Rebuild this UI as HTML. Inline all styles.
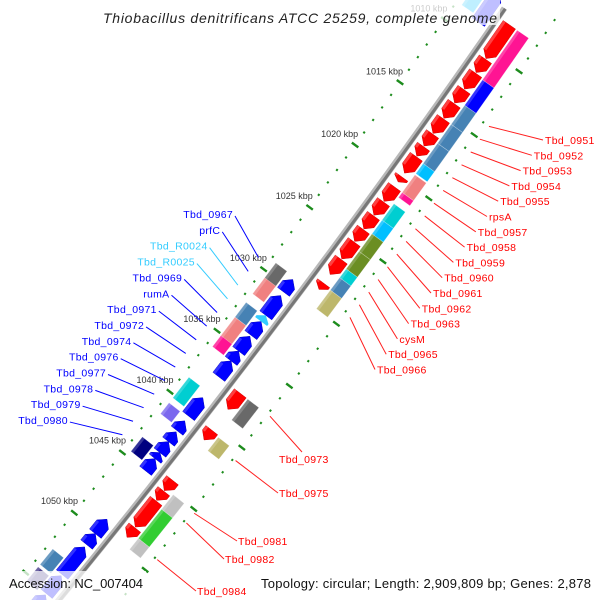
<!DOCTYPE html>
<html><head><meta charset="utf-8"><style>
html,body{margin:0;padding:0;background:#fff;overflow:hidden;width:600px;height:600px;}
svg{display:block;overflow:hidden;font-family:"Liberation Sans",sans-serif;}
</style></head><body>
<svg id="map" width="600" height="600" viewBox="0 0 600 600" xmlns="http://www.w3.org/2000/svg">
<defs><clipPath id="frame"><rect x="0" y="0" width="600" height="600"/></clipPath></defs>
<rect x="0" y="0" width="600" height="600" fill="#fff"/>
<g clip-path="url(#frame)">
<g id="ticks"></g>
<g id="feat"></g>
<g id="labs"></g>
</g>
<rect x="100" y="0" width="400" height="25" fill="#fff" fill-opacity="0.75"/>
<text x="300" y="23" text-anchor="middle" font-size="14" font-style="italic" fill="#222" textLength="394">Thiobacillus denitrificans ATCC 25259, complete genome</text>
<rect x="0" y="571" width="146" height="29" fill="#fff" fill-opacity="0.75"/>
<text x="9" y="588" font-size="13" fill="#111" textLength="134">Accession: NC_007404</text>
<text x="261" y="588" font-size="13" fill="#111" textLength="330">Topology: circular; Length: 2,909,809 bp; Genes: 2,878</text>
</svg>
<script>
// ---- data ----
const fwdGenes = [[1007.9,1010.55],[1010.6,1011.65],[1011.7,1012.95],[1013.0,1014.05],[1014.1,1015.25],[1015.3,1016.45],[1016.5,1017.45],[1017.5,1018.25],[1018.3,1019.6],[1019.9,1020.3],[1020.7,1021.85],[1021.9,1022.95],[1023.0,1024.05],[1024.1,1025.05],[1025.1,1026.45],[1026.5,1027.7],[1028.4,1028.9],[1037.3,1038.6],[1040.3,1041.1],[1044.4,1045.25],[1045.3,1046.05],[1046.1,1048.25],[1048.3,1049.1]];
const fwdCogStart = [1007.9,1011.8,1013.8,1015.3,1016.8,1018.4,1019.3,1020.7,1021.6,1022.9,1024.0,1025.4,1026.8,1027.5,1028.5,1037.3,1040.4,1045.1,1046.3,1048.7];
const fwdCogEnd   = [1011.8,1013.8,1015.3,1016.8,1018.4,1019.2,1020.7,1021.1,1022.9,1024.0,1025.4,1026.8,1027.5,1028.5,1030.0,1039.0,1041.5,1046.3,1048.7,1049.6];
const fwdCogClass = ['pink','blue','steel','steel','steel','sky','salmon','pink','cyan','sky','olive','olive','cyan','steel','khaki','gray','khaki','silver','green','silver'];
const revGenes = [[1006.6,1008.9],[1029.4,1030.4],[1030.7,1032.3],[1032.8,1033.9],[1034.0,1035.2],[1035.2,1036.0],[1036.0,1037.3],[1039.0,1040.5],[1040.9,1041.7],[1041.8,1042.6],[1042.6,1043.5],[1043.5,1044.0],[1044.0,1045.0],[1049.0,1050.2],[1050.2,1051.1],[1051.3,1053.6],[1053.7,1055.2],[1055.3,1056.6]];
const revRna = [[1032.3,1032.8]];
const revCogStart = [1007.0,1029.2,1030.4,1032.4,1033.6,1035.1,1038.5,1040.6,1043.4,1052.7,1054.2];
const revCogEnd   = [1008.6,1030.5,1031.7,1033.6,1035.2,1036.0,1040.2,1041.5,1044.6,1054.0,1055.4];
const revCogClass = ['sky','gray','salmon','steel','salmon','pink','cyan','slate','navy','steel','dslate'];
const rightLabels = ['Tbd_0951','Tbd_0952','Tbd_0953','Tbd_0954','Tbd_0955','rpsA','Tbd_0957','Tbd_0958','Tbd_0959','Tbd_0960','Tbd_0961','Tbd_0962','Tbd_0963','cysM','Tbd_0965','Tbd_0966'];
const leftLabels = ['Tbd_0967','prfC','Tbd_R0024','Tbd_R0025','Tbd_0969','rumA','Tbd_0971','Tbd_0972','Tbd_0974','Tbd_0976','Tbd_0977','Tbd_0978','Tbd_0979','Tbd_0980'];
const leftLabelRna = [false,false,true,true,false,false,false,false,false,false,false,false,false,false];
const lowerLabels = ['Tbd_0973','Tbd_0975','Tbd_0981','Tbd_0982','Tbd_0984'];
const lowerLabelKbp = [1037.3,1040.9,1045.2,1046.0,1049.0];
const tickStart = 1006, tickEnd = 1056;

// ---- geometry ----
const COG = {pink:'#ff1493',blue:'#0000ff',steel:'#4682b4',sky:'#00bfff',salmon:'#f08080',cyan:'#00ced1',olive:'#6b8e23',khaki:'#bdb76b',gray:'#696969',silver:'#c0c0c0',green:'#32cd32',slate:'#7b68ee',navy:'#000080',dslate:'#483d8b'};
const Cx=-6902, Cy=-5105, R=9000, PX=15.5, phi0=Math.atan2(5400,7200);
function P(k,t){const a=phi0+(k-1030)*PX/R;const r=R+t;return [Cx+r*Math.cos(a),Cy+r*Math.sin(a)];}
const NS='http://www.w3.org/2000/svg';
function mk(parent,tag,attrs,name){const el=document.createElementNS(NS,tag);for(const a in attrs)el.setAttribute(a,attrs[a]);


parent.appendChild(el);return el;}
function pts(arr){return arr.map(p=>p[0].toFixed(2)+','+p[1].toFixed(2)).join(' ');}
const gT=document.getElementById('ticks'),gF=document.getElementById('feat'),gL=document.getElementById('labs');

// backbone
let d='';for(let k=1007.2;k<=1056.2;k+=0.5){const p=P(k,0);d+=(d?'L':'M')+p[0].toFixed(2)+','+p[1].toFixed(2);}
mk(gF,'path',{d:d,fill:'none',stroke:'#b8b8b8','stroke-width':6},'backbone-edge');
d='';for(let k=1007.2;k<=1056.2;k+=0.5){const p=P(k,1);d+=(d?'L':'M')+p[0].toFixed(2)+','+p[1].toFixed(2);}
mk(gF,'path',{d:d,fill:'none',stroke:'#777','stroke-width':3},'backbone');

// ticks
const rings=[-43,48];
for(let k=tickStart;k<=tickEnd;k++){
  const major=(k%5===0);
  for(const t of rings){
    const len=major?4:1;const a=P(k,t-len),b=P(k,t+len);
    if(Math.min(a[0],b[0])<0||Math.max(a[1],b[1])>600||Math.min(a[1],b[1])<0||Math.max(a[0],b[0])>600)continue;
    mk(gT,'line',{x1:a[0],y1:a[1],x2:b[0],y2:b[1],stroke:'#1d8c1d','stroke-width':major?2.4:2.2},major?'major-tick':'minor-tick');
  }
  if(major){const p=P(k,-62);
    if(p[0]>25&&p[1]<560){
    const tx=mk(gT,'text',{x:p[0],y:p[1]+3,'text-anchor':'middle','font-size':9,fill:'#333'},'tick-label-'+k);tx.textContent=k+' kbp';}}
}

function arrow(k1,k2,tIn,tOut,dir){const h=Math.min(0.45,(k2-k1)*0.7),m=(tIn+tOut)/2;
  return dir>0?[P(k1,tIn),P(k2-h,tIn),P(k2,m),P(k2-h,tOut),P(k1,tOut)]:[P(k2,tIn),P(k1+h,tIn),P(k1,m),P(k1+h,tOut),P(k2,tOut)];}
function box(k1,k2,tIn,tOut){return [P(k1,tIn),P(k2,tIn),P(k2,tOut),P(k1,tOut)];}
function shade(k1,k2,tEdge,w){return box(k1,k2,tEdge,tEdge+w);}

fwdGenes.forEach((g,i)=>{mk(gF,'polygon',{points:pts(arrow(g[0],g[1],6,21,1)),fill:'#ff0000',stroke:'#d00000','stroke-width':0.5},'forward-gene');
  mk(gF,'polygon',{points:pts(shade(g[0],g[1]-Math.min(0.45,(g[1]-g[0])*0.7),6,3)),fill:'#fff','fill-opacity':0.25},'forward-gene-shade');});
fwdCogStart.forEach((s,i)=>{mk(gF,'polygon',{points:pts(box(s,fwdCogEnd[i],23,37)),fill:COG[fwdCogClass[i]],stroke:'rgba(255,255,255,0.35)','stroke-width':0.6},'forward-cog-'+fwdCogClass[i]);
  mk(gF,'polygon',{points:pts(shade(s,fwdCogEnd[i],23,3)),fill:'#fff','fill-opacity':0.2},'forward-cog-shade');});
revGenes.forEach(g=>{mk(gF,'polygon',{points:pts(arrow(g[0],g[1],-6,-21,-1)),fill:'#0000ff',stroke:'#0000c0','stroke-width':0.5},'reverse-gene');
  mk(gF,'polygon',{points:pts(shade(g[0]+Math.min(0.45,(g[1]-g[0])*0.7),g[1],-21,3)),fill:'#fff','fill-opacity':0.2},'reverse-gene-shade');});
revRna.forEach(g=>{mk(gF,'polygon',{points:pts(arrow(g[0],g[1],-6,-21,-1)),fill:'#33ccff'},'reverse-rna');});
revCogStart.forEach((s,i)=>{mk(gF,'polygon',{points:pts(box(s,revCogEnd[i],-23,-37)),fill:COG[revCogClass[i]],stroke:'rgba(255,255,255,0.35)','stroke-width':0.6},'reverse-cog-'+revCogClass[i]);
  mk(gF,'polygon',{points:pts(shade(s,revCogEnd[i],-37,3)),fill:'#fff','fill-opacity':0.2},'reverse-cog-shade');});

// labels
rightLabels.forEach((n,i)=>{const lx=545-11.2*i,ly=140+15.3*i,a=P(1014+1.01*i,55);
  mk(gL,'line',{x1:a[0],y1:a[1],x2:lx-2,y2:ly,stroke:'#ff2020','stroke-width':1},'label-line-'+n);
  const t=mk(gL,'text',{x:lx,y:ly+4,'font-size':10.5,fill:'#ff0000','letter-spacing':0.3},'label-'+n);t.textContent=n;});
leftLabels.forEach((n,i)=>{const rx=233-12.7*i,ly=214+15.85*i,a=P(1029.6+1.115*i,-54);const c=leftLabelRna[i]?'#33ccff':'#0000ff';
  mk(gL,'line',{x1:rx+2,y1:ly+2,x2:a[0],y2:a[1],stroke:c,'stroke-width':1},'label-line-'+n);
  const t=mk(gL,'text',{x:rx,y:ly+4,'text-anchor':'end','font-size':10.5,fill:c,'letter-spacing':0.3},'label-'+n);t.textContent=n;});
const lowerPos=[[279,459],[279,493],[238,541],[225,559],[197,591]];
lowerLabels.forEach((n,i)=>{const a=P(lowerLabelKbp[i],51),lx=lowerPos[i][0],ly=lowerPos[i][1];
  const ex=i===0?302:lx-1,ey=i===0?452:ly;
  mk(gL,'line',{x1:a[0],y1:a[1],x2:ex,y2:ey,stroke:'#ff2020','stroke-width':1},'label-line-'+n);
  const t=mk(gL,'text',{x:lx,y:ly+4,'font-size':10.5,fill:'#ff0000','letter-spacing':0.3},'label-'+n);t.textContent=n;});
</script>
</body></html>
